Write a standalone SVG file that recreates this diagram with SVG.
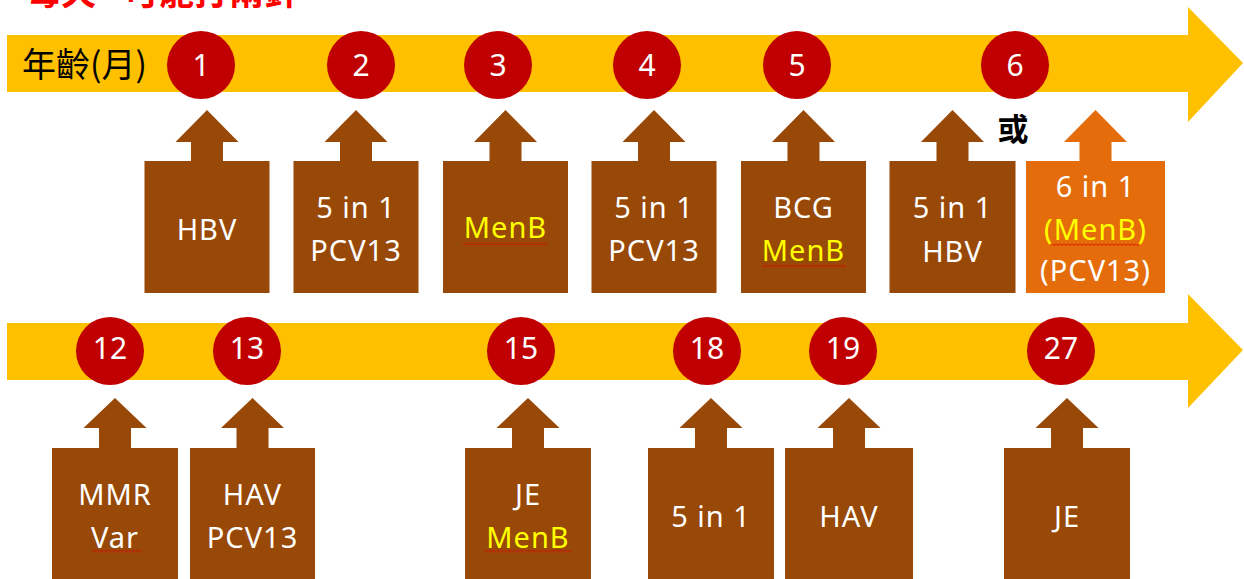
<svg xmlns="http://www.w3.org/2000/svg" width="1244" height="579" viewBox="0 0 1244 579">
<style>
.band{fill:#FFC000}
.dot{fill:#C00000}
.num{fill:#fff;font-family:"Noto Sans","Open Sans",sans-serif;font-size:30px;text-anchor:middle}
.box{fill:#984807}
.obox{fill:#E46C0A}
.t{fill:#fff;font-family:"Noto Sans","Open Sans",sans-serif;font-size:29px;letter-spacing:1px;text-anchor:middle}
.y{fill:#FFFF00}
.cjk{font-family:"Noto Sans CJK TC","Noto Sans CJK SC",sans-serif}
</style>
<defs>
<pattern id="wave" x="0" y="0" width="4" height="3" patternUnits="userSpaceOnUse">
<polyline points="0,0.5 2,2.5 4,0.5" fill="none" stroke="#E00000" stroke-width="0.9"/>
</pattern>
<path id="armTop" d="M0,110 L31.5,142 L16,142 L16,162 L-16,162 L-16,142 L-31.5,142 Z"/>
<path id="armBot" d="M0,398 L31.5,428 L16,428 L16,449 L-16,449 L-16,428 L-31.5,428 Z"/>
</defs>
<rect width="1244" height="579" fill="#fff"/>

<text x="26" y="5" class="cjk" font-size="35" font-weight="bold" fill="#FF0000">每天<tspan x="124">可能打兩針</tspan></text>

<g id="connectors">
<polygon class="band" points="7,35 1188,35 1188,7 1243,63 1188,122 1188,92 7,92"/>
<polygon class="band" points="7,323 1188,323 1188,294 1243,350 1188,408 1188,380 7,380"/>
</g>

<text x="22" y="77" class="cjk" font-size="34" fill="#000">年齡(月)</text>

<g id="m1"><circle class="dot" cx="201" cy="65" r="34"/><text class="num" x="201" y="76">1</text></g>
<g id="m2"><circle class="dot" cx="361" cy="65" r="34"/><text class="num" x="361" y="76">2</text></g>
<g id="m3"><circle class="dot" cx="498" cy="65" r="34"/><text class="num" x="498" y="76">3</text></g>
<g id="m4"><circle class="dot" cx="647" cy="65" r="34"/><text class="num" x="647" y="76">4</text></g>
<g id="m5"><circle class="dot" cx="797" cy="65" r="34"/><text class="num" x="797" y="76">5</text></g>
<g id="m6"><circle class="dot" cx="1015" cy="65" r="34"/><text class="num" x="1015" y="76">6</text></g>

<g id="m12"><circle class="dot" cx="110" cy="351" r="34"/><text class="num" x="110" y="359">12</text></g>
<g id="m13"><circle class="dot" cx="247" cy="351" r="34"/><text class="num" x="247" y="359">13</text></g>
<g id="m15"><circle class="dot" cx="521" cy="351" r="34"/><text class="num" x="521" y="359">15</text></g>
<g id="m18"><circle class="dot" cx="707" cy="351" r="34"/><text class="num" x="707" y="359">18</text></g>
<g id="m19"><circle class="dot" cx="843" cy="351" r="34"/><text class="num" x="843" y="359">19</text></g>
<g id="m27"><circle class="dot" cx="1061" cy="351" r="34"/><text class="num" x="1061" y="359">27</text></g>

<text x="1013" y="140" class="cjk" font-size="31" font-weight="bold" fill="#000" text-anchor="middle">或</text>

<!-- top row vaccines -->
<g id="v1">
<use href="#armTop" x="207" class="box"/>
<rect class="box" x="144.5" y="161" width="125" height="132"/>
<text class="t" x="207" y="240">HBV</text>
</g>
<g id="v2">
<use href="#armTop" x="356" class="box"/>
<rect class="box" x="293.5" y="161" width="125" height="132"/>
<text class="t" x="356" y="218">5 in 1</text>
<text class="t" x="356" y="261">PCV13</text>
</g>
<g id="v3">
<use href="#armTop" x="505.5" class="box"/>
<rect class="box" x="443" y="161" width="125" height="132"/>
<text class="t y" x="505.5" y="238">MenB</text>
<rect x="463" y="242" width="84" height="3" fill="url(#wave)"/>
</g>
<g id="v4">
<use href="#armTop" x="654" class="box"/>
<rect class="box" x="591.5" y="161" width="125" height="132"/>
<text class="t" x="654" y="218">5 in 1</text>
<text class="t" x="654" y="261">PCV13</text>
</g>
<g id="v5">
<use href="#armTop" x="803.5" class="box"/>
<rect class="box" x="741" y="161" width="125" height="132"/>
<text class="t" x="803.5" y="218">BCG</text>
<text class="t y" x="803.5" y="261">MenB</text>
<rect x="762" y="265" width="84" height="3" fill="url(#wave)"/>
</g>
<g id="v6a">
<use href="#armTop" x="952.5" class="box"/>
<rect class="box" x="889.5" y="161" width="126" height="132"/>
<text class="t" x="952.5" y="218">5 in 1</text>
<text class="t" x="952.5" y="262">HBV</text>
</g>
<g id="v6b">
<use href="#armTop" x="1095.5" class="obox"/>
<rect class="obox" x="1026" y="161" width="139" height="132"/>
<text class="t" x="1095.5" y="197">6 in 1</text>
<text class="t" x="1095.5" y="240"><tspan class="y">(</tspan><tspan class="y">MenB</tspan><tspan class="y">)</tspan></text>
<rect x="1050" y="243" width="90" height="3" fill="url(#wave)"/>
<text class="t" x="1095.5" y="281">(PCV13)</text>
</g>

<!-- bottom row vaccines -->
<g id="v12">
<use href="#armBot" x="115" class="box"/>
<rect class="box" x="52" y="448" width="126" height="140"/>
<text class="t" x="115" y="505">MMR</text>
<text class="t" x="115" y="548">Var</text>
<rect x="92" y="550" width="50" height="3" fill="url(#wave)"/>
</g>
<g id="v13">
<use href="#armBot" x="252.5" class="box"/>
<rect class="box" x="190" y="448" width="125" height="140"/>
<text class="t" x="252.5" y="505">HAV</text>
<text class="t" x="252.5" y="548">PCV13</text>
</g>
<g id="v15">
<use href="#armBot" x="528" class="box"/>
<rect class="box" x="465" y="448" width="126" height="140"/>
<text class="t" x="528" y="505">JE</text>
<text class="t y" x="528" y="548">MenB</text>
<rect x="485" y="550" width="86" height="3" fill="url(#wave)"/>
</g>
<g id="v18">
<use href="#armBot" x="711" class="box"/>
<rect class="box" x="648" y="448" width="126" height="140"/>
<text class="t" x="711" y="527">5 in 1</text>
</g>
<g id="v19">
<use href="#armBot" x="849" class="box"/>
<rect class="box" x="785" y="448" width="128" height="140"/>
<text class="t" x="849" y="527">HAV</text>
</g>
<g id="v27">
<use href="#armBot" x="1067" class="box"/>
<rect class="box" x="1004" y="448" width="126" height="140"/>
<text class="t" x="1067" y="527">JE</text>
</g>
</svg>
